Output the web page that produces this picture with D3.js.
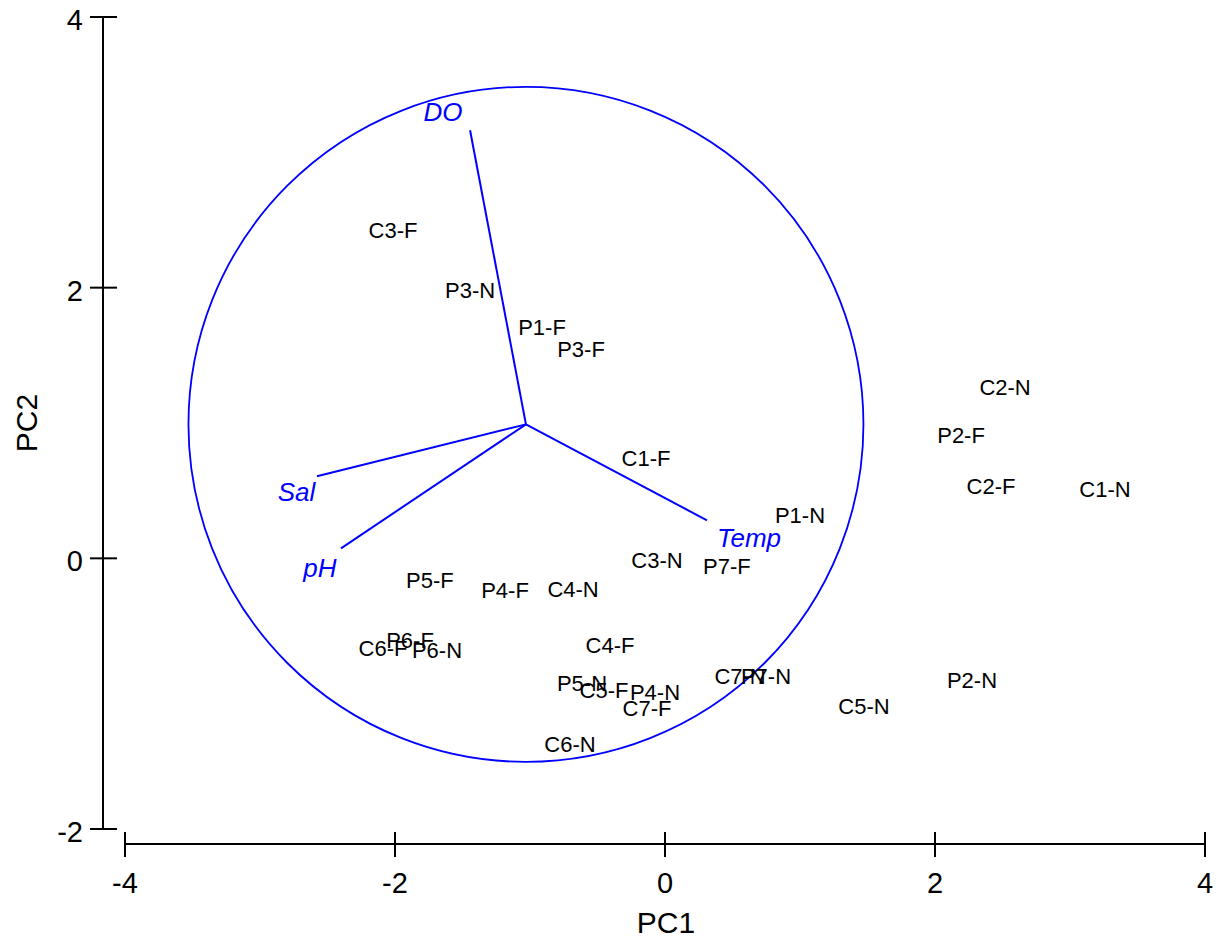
<!DOCTYPE html>
<html>
<head>
<meta charset="utf-8">
<script src="https://cdn.jsdelivr.net/npm/d3@7"></script>
<style>
  body { margin: 0; background: #fff; }
  svg { display: block; font-family: "Liberation Sans", Arial, Helvetica, sans-serif; }
</style>
</head>
<body>
<svg id="chart" width="1223" height="940"></svg>
<script>
// Sample scores on the first two principal components
const sampleNames = ["C3-F","P3-N","P1-F","P3-F","C2-N","P2-F","C2-F","C1-N","C1-F","P1-N",
  "C3-N","P7-F","P5-F","P4-F","C4-N","C4-F","C6-F","P6-F","P6-N","P5-N",
  "C5-F","P4-N","C7-F","C7-N","P7-N","C6-N","C5-N","P2-N"];
const pc1Scores = [-2.015,-1.444,-0.911,-0.622,2.519,2.193,2.415,3.259,-0.141,1.0,
  -0.059,0.459,-1.741,-1.185,-0.681,-0.407,-2.089,-1.889,-1.689,-0.615,
  -0.452,-0.074,-0.133,0.556,0.748,-0.704,1.474,2.274];
const pc2Scores = [2.42,1.98,1.707,1.544,1.264,0.909,0.532,0.51,0.739,0.318,
  -0.015,-0.059,-0.163,-0.236,-0.229,-0.643,-0.665,-0.606,-0.68,-0.924,
  -0.975,-0.99,-1.108,-0.872,-0.872,-1.374,-1.094,-0.902];

// Environmental variable vectors (end points), drawn from the circle centre
const varNames = ["DO","Sal","pH","Temp"];
const varEndX = [-1.444,-2.578,-2.4,0.311];
const varEndY = [3.163,0.606,0.074,0.281];
const varLabelX = [-1.645,-2.73,-2.556,0.622];
const varLabelY = [3.3,0.49,-0.07,0.15];

const circleCenter = [-1.03, 0.99];
const circleRadius = 2.5;

const xTicks = [-4,-2,0,2,4];
const yTicks = [-2,0,2,4];

const svg = d3.select("#chart");
const x = d3.scaleLinear().domain([-4, 4]).range([125, 1205]);
const y = d3.scaleLinear().domain([-2, 4]).range([829, 17]);

// X axis (detached below the plot), ticks crossing the line
const xAxisY = 844;
svg.append("line").attr("x1", x(-4)).attr("x2", x(4)).attr("y1", xAxisY).attr("y2", xAxisY)
  .attr("stroke", "#000").attr("stroke-width", 2);
svg.selectAll(".xt").data(xTicks).enter().append("line")
  .attr("x1", d => x(d)).attr("x2", d => x(d)).attr("y1", xAxisY - 12).attr("y2", xAxisY + 13)
  .attr("stroke", "#000").attr("stroke-width", 2);
svg.selectAll(".xl").data(xTicks).enter().append("text")
  .attr("x", d => x(d)).attr("y", 893).attr("text-anchor", "middle")
  .attr("font-size", 29).text(d => d);
svg.append("text").attr("x", 666).attr("y", 933).attr("text-anchor", "middle")
  .attr("font-size", 30).text("PC1");

// Y axis (detached left of the plot)
const yAxisX = 103;
svg.append("line").attr("x1", yAxisX).attr("x2", yAxisX).attr("y1", y(-2)).attr("y2", y(4))
  .attr("stroke", "#000").attr("stroke-width", 2);
svg.selectAll(".yt").data(yTicks).enter().append("line")
  .attr("x1", yAxisX - 13).attr("x2", yAxisX + 14).attr("y1", d => y(d)).attr("y2", d => y(d))
  .attr("stroke", "#000").attr("stroke-width", 2);
svg.selectAll(".yl").data(yTicks).enter().append("text")
  .attr("x", 83).attr("y", d => y(d) + 13).attr("text-anchor", "end")
  .attr("font-size", 29).text(d => d);
svg.append("text").attr("transform", `translate(37, 423) rotate(-90)`)
  .attr("text-anchor", "middle").attr("font-size", 30).text("PC2");

// Correlation circle
const rPx = x(circleRadius) - x(0);
svg.append("circle").attr("cx", x(circleCenter[0])).attr("cy", y(circleCenter[1])).attr("r", rPx)
  .attr("fill", "none").attr("stroke", "#0000ff").attr("stroke-width", 1.8);

// Variable vectors
svg.selectAll(".vec").data(varNames).enter().append("line")
  .attr("x1", x(circleCenter[0])).attr("y1", y(circleCenter[1]))
  .attr("x2", (d, i) => x(varEndX[i])).attr("y2", (d, i) => y(varEndY[i]))
  .attr("stroke", "#0000ff").attr("stroke-width", 2);
svg.selectAll(".vlab").data(varNames).enter().append("text")
  .attr("x", (d, i) => x(varLabelX[i])).attr("y", (d, i) => y(varLabelY[i]))
  .attr("text-anchor", "middle").attr("dominant-baseline", "central")
  .attr("font-size", 26).attr("font-style", "italic").attr("fill", "#0000ff").text(d => d);

// Sample labels
svg.selectAll(".samp").data(sampleNames).enter().append("text")
  .attr("x", (d, i) => x(pc1Scores[i])).attr("y", (d, i) => y(pc2Scores[i]))
  .attr("text-anchor", "middle").attr("dominant-baseline", "central")
  .attr("font-size", 22).attr("fill", "#000").text(d => d);
</script>
</body>
</html>
